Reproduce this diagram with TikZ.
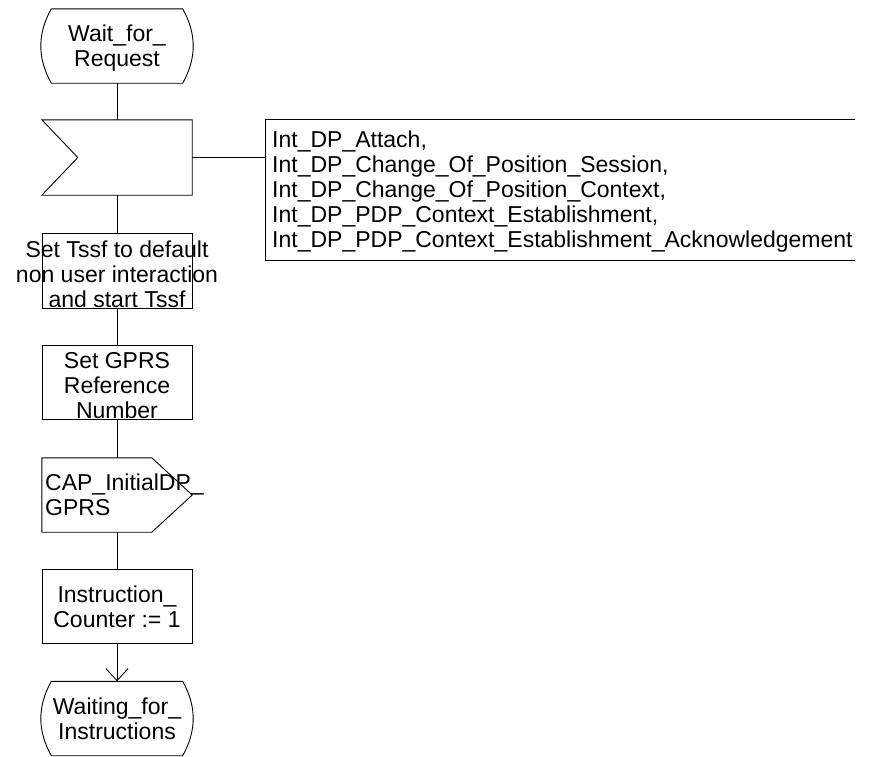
\documentclass[tikz,border=0pt]{standalone}
\usepackage{fontspec}
\setmainfont{Liberation Sans}
\usetikzlibrary{arrows.meta,calc}
\begin{document}
\begin{tikzpicture}[x=1pt,y=-1pt,
  every node/.style={font=\fontsize{23}{25}\selectfont, inner sep=0pt},
  shapebox/.style={rectangle, minimum width=150pt, minimum height=75pt, inner sep=0pt},
  taskbox/.style={shapebox, draw=black, line width=0.9pt},
  txt/.style={align=center},
  flow/.style={line width=0.9pt, draw=black}
]
\useasboundingbox (0,0) rectangle (872,756);
% nodes
\node[shapebox, minimum width=131pt, minimum height=74pt] (start) at (117,46) {};
\node[txt] (starttext) at (117,48.5) {Wait\_for\_\\Request};
\node[shapebox] (inp) at (117,157.5) {};
\node[shapebox, minimum width=589pt, minimum height=140pt] (cmt) at (560.5,190) {};
\node[align=left, anchor=west] (cmttext) at (272,192) {Int\_DP\_Attach,\\
Int\_DP\_Change\_Of\_Position\_Session,\\
Int\_DP\_Change\_Of\_Position\_Context,\\
Int\_DP\_PDP\_Context\_Establishment,\\
Int\_DP\_PDP\_Context\_Establishment\_Acknowledgement};
\node[taskbox] (t1) at (117,270.5) {};
\node[txt] (t1text) at (117,274) {Set Tssf to default\\non user interaction\\and start Tssf};
\node[taskbox, minimum height=74pt] (t2) at (117,382) {};
\node[txt] (t2text) at (117,385.5) {Set GPRS\\Reference\\Number};
\node[shapebox, minimum height=74pt] (out) at (117,495) {};
\node[align=left, anchor=west] (outtext) at (45,494.6) {CAP\_InitialDP\_\\GPRS};
\node[taskbox, minimum height=74pt] (t3) at (117,606) {};
\node[txt] (t3text) at (117,606.5) {Instruction\_\\Counter := 1};
\node[shapebox, minimum width=131pt, minimum height=74pt] (stop) at (117,718.5) {};
\node[txt] (stoptext) at (117,719) {Waiting\_for\_\\Instructions};
% shapes
\draw[flow] (start.north west) -- (start.north east)
  .. controls +(14,25) and +(14,-25) .. (start.south east)
  -- (start.south west)
  .. controls +(-14,-25) and +(-14,25) .. (start.north west);
\draw[flow] (inp.north west) -- (inp.north east) -- (inp.south east) -- (inp.south west)
  -- ($(inp.west)+(36,0)$) -- cycle;
\draw[flow] (cmt.north east) -- (cmt.north west) -- (cmt.south west) -- (cmt.south east);
\draw[flow] (out.north west) -- ($(out.north west)+(110,0)$) -- (out.east)
  -- ($(out.south west)+(110,0)$) -- (out.south west) -- cycle;
\draw[flow] (stop.north west) -- (stop.north east)
  .. controls +(14,25) and +(14,-25) .. (stop.south east)
  -- (stop.south west)
  .. controls +(-14,-25) and +(-14,25) .. (stop.north west);
% connectors
\draw[flow] (start.south) -- (inp.north);
\draw[flow] (inp.east) -- (inp.east -| cmt.west);
\draw[flow] (inp.south) -- (t1.north);
\draw[flow] (t1.south) -- (t2.north);
\draw[flow] (t2.south) -- (out.north);
\draw[flow] (out.south) -- (t3.north);
\draw[flow, -{Straight Barb[length=12pt,width=22pt]}] (t3.south) -- (stop.north);
\end{tikzpicture}
\end{document}
